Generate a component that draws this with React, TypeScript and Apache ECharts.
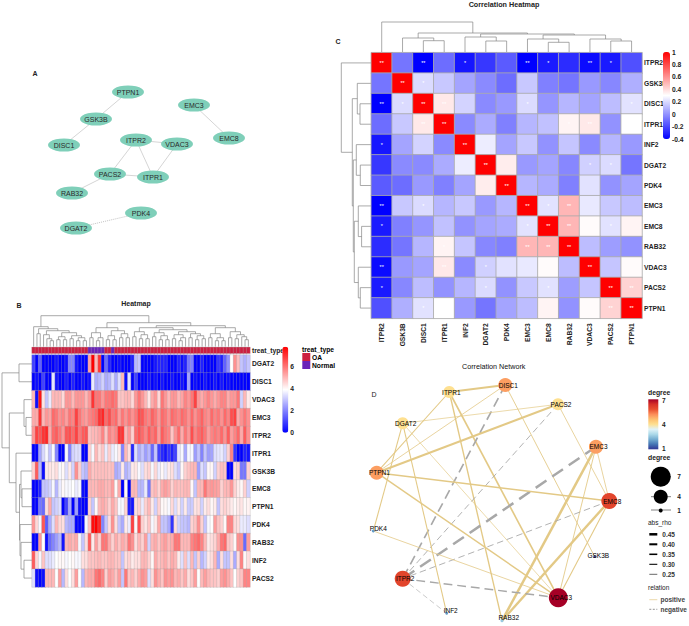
import React, { useEffect, useRef } from "react";
import * as echarts from "echarts";

const FONT = "Liberation Sans";

// ---------- Panel A ----------
const ppiNodes = ["PTPN1", "EMC3", "GSK3B", "EMC8", "DISC1", "ITPR2", "VDAC3", "PACS2", "ITPR1", "RAB32", "PDK4", "DGAT2"];
const ppiLayout: number[][] = [[128, 92], [194, 105], [96, 119], [229, 138], [64, 145], [136, 140], [177, 144], [110, 174], [153, 177], [72, 193], [141, 213], [76, 228]];
const ppiEdges: string[][] = [["PTPN1", "GSK3B"], ["GSK3B", "DISC1"], ["EMC3", "EMC8"], ["ITPR2", "VDAC3"], ["ITPR2", "PACS2"], ["ITPR2", "ITPR1"], ["VDAC3", "ITPR1"], ["PACS2", "ITPR1"], ["PACS2", "RAB32"]];
const ppiDotted: string[][] = [["PDK4", "DGAT2"]];

// ---------- Panel B ----------
const heatGenes = ["DGAT2", "DISC1", "VDAC3", "EMC3", "ITPR2", "ITPR1", "GSK3B", "EMC8", "PTPN1", "PDK4", "RAB32", "INF2", "PACS2"];
const normalSamples = [17, 18, 19, 20, 21, 24];
const rowDGAT2 = [1,0,1.5,0,0,0,0,0.3,0,0,0.2, 2,2,0.3,0,0,0,5.3,7.8,5,7,0, 1.6,0.5,0,0,0.2,0,0,0,0.5,2.8,3, 0,0,0,0,0.3,0.5,0.5,0.5,0,0,0, 0.5,0.2,0.5,1.8,2,0,0,0.5,0,0,0, 0,0.8,0.5,1.5,2.2,3.9,5.6,4.9,3,2.7,3];
const rowDISC1 = [0,0.2,0,1,0,0,3.5,0.3,0,0,0.4, 0,0.5,0,0,0.3,0,0.2,3.6,2.6,2.8,3.2, 2.6,2.8,3.4,2.6,3.4,5,0.2,3.5,0,1,0, 0,0,0.3,0,0.2,0,0.3,0,0,0.3,0, 0,0.3,0,2.5,0,0.2,0,0,0.3,0,0, 0.3,0,0.3,0,0.2,0,0,0,0,0,0];
const rowVDAC3 = [5,0.2,7.5,4.3,3,3.6,5,5,5,4.5,5.5, 5.5,5,5.5,5.5,5.5,5,5.5,7,6,6,5.5, 6,6,6.2,6,4.8,4.8,5,5,4.5,5.5,6, 5.5,5,4.3,5.2,5.5,4.5,6,5.5,5,5.5,5.5, 5,5.3,5.8,5.5,6,6.8,5.5,5.2,5.5,5.8,5.5, 5.2,5.5,5.8,5.8,5.2,5.5,5.5,6,3.2,5,4.2];
const rowEMC3 = [5.2,5.2,7,5,5.5,5.3,6.2,6,5.6,5.8,5.4, 6,5.8,6.8,6,5.6,5.4,5.8,6,6.2,7,7.2, 6.2,6.6,6,6.2,5.4,6,5.6,6,5.6,6,6.6, 6.5,6,5.8,6.3,6,5.5,6.2,6,5.6,6.2,6, 5.8,6.2,6,5.6,6.2,5.6,6,6.3,5.8,5.6,6.2, 5.8,6,5.6,6.2,5.8,6.6,6.8,5.2,5.6,6,5.6];
const rowITPR2 = [5.5,6.8,6.5,7,7.2,5.2,6.2,6.4,6,5.5,6.5, 6.6,6.2,6.8,6,6.4,6.5,4.8,5,5,5.2,5.8, 4.8,5.8,5.5,5.8,7,7,5,5.5,4.6,6.2,6.5, 6.2,5.8,6.4,6,6.3,5.4,6.4,6,5.8,4.8,5.6, 6.2,5.2,6,5.5,6.6,5.8,6.2,6.4,6,5.4,5.8, 6,5.8,6.2,5.6,6.4,5.4,5.8,6.2,5.2,6.4,5.6];
const rowITPR1 = [0,0,2.5,3.3,3.8,3,3.8,2,0,0,3.8, 2,3.2,3.4,3.4,0,0,4.6,3.8,5,4.4,4.8, 3.6,4.6,3.6,3.8,4.2,2,5,4.4,0.6,3.4,2.6, 3,2.4,2.8,1.6,3,1,0.6,0.3,0.8,0.5,1, 3.5,3.8,2.6,3.8,3.8,2.4,3,2,3,2.4,2.5, 3.4,3.5,3.6,3.2,4.6,5.8,0.8,0,0,0.5,0.3];
const rowGSK3B = [4.6,6.4,2.8,0.2,4.2,4.3,4.2,4.4,3.8,4,3.4, 4.2,3.2,5.6,4.6,3,2.8,5.2,4.8,4.9,4.9,4.9, 4.9,4.8,4.9,2.6,2.8,4.2,2.7,3,4.2,4.3,3.8, 3.4,4.4,4.6,3.8,4.5,3.6,4,3.6,4.2,4.4,3.4, 3,4,4.6,4.8,5,5,2.4,3.4,3,4,4, 3.2,4.6,4.9,4.8,0,0,4.4,4.6,1.8,1.8,4.6];
const rowEMC8 = [0,0,0.5,3,3,3.2,3.8,2.8,3.6,4,3.8, 3.8,3.9,3.6,3.8,0.2,0,5,5,5,5.2,5.2, 5,5,5.4,4,5.2,0,4,0,5,5,2.8, 2.8,3.6,1.8,4.8,5,4.6,5.2,5.4,5.2,4.6,5, 4.9,4.9,5,5,4,3,5,5,6,5.4,5.5, 5.4,5.3,4.6,5,5,5.5,4.6,4.2,4,4.6,3.2];
const rowPTPN1 = [0,0,1.8,1.6,4.4,5.2,3,3.2,3.4,0,1, 2.6,0,2.4,0.2,0,0,4.6,3,4,5,5.2, 5,4.6,5.2,4.8,3.8,3.8,4.6,0.5,0.3,4.4,4.6, 3.6,4.6,5,4.2,3.2,4.6,4,4,3.8,4.5,3.4, 4.2,3.2,4.2,3.1,3.1,4.3,4.4,3.2,4.2,4.4,4, 4.2,3,4.4,4.6,4.4,4.2,4,4.2,4.3,4,4.1];
const rowPDK4 = [5.5,4.5,3.8,6.5,1.4,2.6,3.4,5,4.5,4.4,2.8, 2.6,2.6,0,0,0,3.8,4.8,7.6,7.8,7.2,2, 3,4.4,5.6,4.4,3,2.6,4.2,3.6,6.8,4,6.6, 4.6,4.3,4.8,3.8,4.2,5.2,3,3,2.6,0.8,4.4, 3.2,3,3,2.8,4.6,4.8,5.6,4.6,3,3.8,3.9, 5.4,4.8,4.6,4,5.8,5.8,4.5,4.4,3.6,3.6,3.4];
const rowRAB32 = [0,0,5.5,3.9,0.2,1.6,2,2.4,2.8,0.3,5, 5.2,5,5.2,3.8,3,4.4,6.4,4.2,5.4,4.6,6, 6,5.2,4.6,5.2,4.8,5.2,5,6,5.6,4.4,5, 4.6,5.4,3.2,5,5.2,4.8,5.2,5.4,5,5.2,6, 6,5,5,5,5.8,6,6.2,5.8,5,4.2,4.4, 4.6,5.2,6,6.2,4.8,4.6,4,5.6,5.6,1.6,5.4];
const rowINF2 = [6.4,4.5,3.8,4.8,3.4,3.4,3.6,3.9,4,4,3.8, 3.9,4,3.8,3.8,4.4,4.4,4.8,4.8,4.9,5,4.8, 4.8,5,5,4.8,4.8,3,4.4,4.6,4.2,4.4,4.4, 5,5,4.6,4,5.2,4.8,5,5.2,4.8,5.2,5, 4.2,3.4,4.8,3.4,5,3,4.6,2.8,3.2,4.2,4.4, 5,2.6,4.4,3,3,4.4,2.6,4.4,5.8,4,4.4];
const rowPACS2 = [3.4,0.2,0,0.2,5,5,5,3.9,5.4,2.8,4.4, 3.9,4.4,5.4,3.9,2.8,5,5.2,5.2,6,6.2,5.8, 4.6,5.4,5.2,4.8,5.4,3,6,4.8,5,4.6,5.2, 5.6,5.4,3.4,4.4,5.6,5.2,4.8,5.6,5.4,5.6,5, 5.2,4.8,5.2,4.4,4.8,5.4,3.9,5,5.4,5,4.8, 4.8,4.6,5.4,5.6,5.2,4.8,3.9,4.6,4.8,5.8,5.8];
const heatRows = [rowDGAT2, rowDISC1, rowVDAC3, rowEMC3, rowITPR2, rowITPR1, rowGSK3B, rowEMC8, rowPTPN1, rowPDK4, rowRAB32, rowINF2, rowPACS2];
const heatTicks = [0, 2, 4, 6];

// Dendrograms: [merge height, left, right]; numbers are leaf positions
type Tree = number | [number, Tree, Tree];
const sampleTree: Tree = [31,
  [20, 0, [18, [13, 1, 2], [16, [12, 3, [8, 4, [6, 5, 6]]], [14, [10, [7, 7, 8], [7, 9, 10]], [11, [8, 11, 12], [9, [6, 13, 14], [6, 15, 16]]]]]]],
  [24,
    [19, [14, [9, 17, 18], [9, [6, 19, 20], 21]], [16, [11, [7, 22, 23], [7, 24, 25]], [13, [9, 26, 27], [9, 28, 29]]]],
    [21,
      [19, [15, [10, 30, 31], [12, [8, 32, 33], [8, 34, 35]]], [17, [14, [10, 36, 37], [11, [7, 38, 39], [7, 40, 41]]], [15, [12, [8, 42, 43], [9, [6, 44, 45], 46]], [13, [9, 47, 48], [11, [7, 49, 50], [8, 51, 52]]]]]],
      [19, [13, [9, 53, 54], [9, [6, 55, 56], [6, 57, 58]]], [15, [9, 59, 60], [12, [8, 61, 62], [10, 63, [7, 64, 65]]]]]]]];
const geneTree: Tree = [30, [13, 0, 1], [22.7, [8, 2, [6, 3, 4]], [16, 5, [12.5, [11, 6, [10, 7, 8]], [12, 9, [11, 10, [8, 11, 12]]]]]]];

// ---------- Panel C ----------
const corGenes = ["ITPR2", "GSK3B", "DISC1", "ITPR1", "INF2", "DGAT2", "PDK4", "EMC3", "EMC8", "RAB32", "VDAC3", "PACS2", "PTPN1"];
const corITPR2 = [1, -0.08, -0.4, -0.1, -0.34, -0.25, -0.15, -0.4, -0.33, -0.28, -0.37, -0.33, -0.18];
const corGSK3B = [-0.08, 1, 0.2, 0.15, 0.05, -0.02, -0.1, 0.15, -0.05, -0.08, 0.02, -0.03, 0.08];
const corDISC1 = [-0.4, 0.2, 1, 0.36, 0.18, -0.02, 0.02, 0.2, 0.01, 0.1, 0.05, 0.12, 0.22];
const corITPR1 = [-0.1, 0.15, 0.36, 1, -0.02, 0.07, -0.05, 0.1, 0.13, 0.33, 0.36, 0, 0.3];
const corINF2 = [-0.34, 0.05, 0.18, -0.02, 1, 0.25, 0.05, 0.15, 0, 0.14, -0.02, 0.1, 0.02];
const corDGAT2 = [-0.25, -0.02, -0.02, 0.07, 0.25, 1, 0.35, 0.02, 0.05, -0.03, 0.17, 0.2, -0.08];
const corPDK4 = [-0.15, -0.1, 0.02, -0.05, 0.05, 0.35, 1, 0.1, 0.07, -0.05, 0.22, 0, 0.05];
const corEMC3 = [-0.4, 0.15, 0.2, 0.1, 0.15, 0.02, 0.1, 1, 0.22, 0.5, 0.24, 0.15, 0.12];
const corEMC8 = [-0.33, -0.05, 0.01, 0.13, 0, 0.05, 0.07, 0.22, 1, 0.5, 0.31, 0.22, 0.33];
const corRAB32 = [-0.28, -0.08, 0.1, 0.33, 0.14, -0.03, -0.05, 0.5, 0.5, 1, 0.12, 0.03, 0];
const corVDAC3 = [-0.37, 0.02, 0.05, 0.36, -0.02, 0.17, 0.22, 0.24, 0.31, 0.12, 1, 0.14, 0.31];
const corPACS2 = [-0.33, -0.03, 0.12, 0, 0.1, 0.2, 0, 0.15, 0.22, 0.03, 0.14, 1, 0.42];
const corPTPN1 = [-0.18, 0.08, 0.22, 0.3, 0.02, -0.08, 0.05, 0.12, 0.33, 0, 0.31, 0.42, 1];
const corRows = [corITPR2, corGSK3B, corDISC1, corITPR1, corINF2, corDGAT2, corPDK4, corEMC3, corEMC8, corRAB32, corVDAC3, corPACS2, corPTPN1];
const corTree: Tree = [30, 0, [19, [14, 1, [11.3, 2, 3]], [18, [15, 4, [11, 5, 6]], [17, [13, 7, [9.7, 8, 9]], [13, 10, [11, 11, 12]]]]]];
const doubleStars: string[][] = [["ITPR2", "DISC1"], ["ITPR2", "EMC3"], ["ITPR2", "VDAC3"], ["DISC1", "ITPR1"], ["ITPR1", "VDAC3"], ["EMC3", "RAB32"], ["EMC8", "RAB32"], ["PACS2", "PTPN1"]];
const singleStars: string[][] = [["ITPR2", "INF2"], ["ITPR2", "EMC8"], ["ITPR2", "PACS2"], ["GSK3B", "DISC1"], ["DISC1", "EMC3"], ["DISC1", "PTPN1"], ["ITPR1", "RAB32"], ["DGAT2", "VDAC3"], ["DGAT2", "PACS2"], ["EMC3", "EMC8"], ["EMC8", "PACS2"]];
const corTicks = [-0.4, -0.2, 0, 0.2, 0.4, 0.6, 0.8, 1];

// ---------- Panel D ----------
const netNodes = ["DISC1", "ITPR1", "PACS2", "DGAT2", "EMC3", "PTPN1", "EMC8", "PDK4", "GSK3B", "ITPR2", "VDAC3", "INF2", "RAB32"];
const netDegree = [5, 4, 4, 4, 5, 5, 6, 2, 1, 6, 7, 2, 2.6];
const netLayout: number[][] = [[505.3, 385], [449.3, 392], [558, 404.3], [402.7, 423.3], [596, 446.7], [376.7, 472.7], [609.3, 501], [373.3, 531], [594.7, 556.7], [402.7, 578.7], [558.3, 597.7], [446.7, 613.3], [502, 620.7]];
const netLabelShift: number[][] = [[3, 0], [2, 0], [3, 0], [3, 0], [2.5, 0], [2.7, 0], [3, 0], [5, -2.3], [3.6, -1], [2.5, 0], [3, 0], [4, -2.7], [6.7, -3.7]];
const netEdges: [string, string, number][] = [
  ["ITPR1", "DISC1", 0.4], ["ITPR1", "PTPN1", 0.3], ["ITPR1", "VDAC3", 0.36], ["ITPR1", "RAB32", 0.33],
  ["DISC1", "PTPN1", 0.27], ["DISC1", "GSK3B", 0.28], ["DISC1", "ITPR2", -0.36], ["PACS2", "DGAT2", 0.26],
  ["PACS2", "PTPN1", 0.4], ["PACS2", "EMC8", 0.27], ["PACS2", "ITPR2", -0.28], ["DGAT2", "PDK4", 0.3],
  ["DGAT2", "INF2", 0.3], ["DGAT2", "VDAC3", 0.26], ["EMC3", "RAB32", 0.45], ["EMC3", "VDAC3", 0.28],
  ["EMC3", "ITPR2", -0.45], ["EMC3", "EMC8", 0.27], ["EMC8", "RAB32", 0.44], ["EMC8", "VDAC3", 0.3],
  ["EMC8", "PTPN1", 0.35], ["EMC8", "ITPR2", -0.28], ["ITPR2", "VDAC3", -0.34], ["ITPR2", "INF2", -0.25],
  ["PTPN1", "VDAC3", 0.34], ["PDK4", "VDAC3", 0.27],
];
const degreePalette = ["#313695", "#4575b4", "#74add1", "#abd9e9", "#e0f3f8", "#fee090", "#fdc070", "#fc8d59", "#e8502f", "#d73027", "#a50026"];
const rhoLegend = [0.45, 0.40, 0.35, 0.30, 0.25];

// ---------- helpers ----------
const PAGE_W = 689, PAGE_H = 626;
const BG = { left: 32, top: 355, width: 218, height: 232 };
const BA = { left: 32, top: 347.3, width: 218, height: 6 };
const CG = { left: 371.3, top: 52.7, width: 270.7, height: 265.6 };
const B_BAR = { left: 282.3, top: 346.7, width: 6, height: 86 };
const C_BAR = { left: 663, top: 52, width: 7, height: 87 };
const POS_COL = "#e3c986", NEG_COL = "#a8a8a8", OA_COL = "#cc1f40", NORMAL_COL = "#6a22b8";

function treeSegments(t: Tree, place: (pos: number, h: number) => number[], out: number[][]) {
  const rec = (n: Tree): { p: number; h: number } => {
    if (typeof n === "number") return { p: n, h: 0 };
    const a = rec(n[1]), b = rec(n[2]), h = n[0];
    const A0 = place(a.p, a.h), A1 = place(a.p, h), B1 = place(b.p, h), B0 = place(b.p, b.h);
    out.push([...A0, ...A1], [...A1, ...B1], [...B1, ...B0]);
    return { p: (a.p + b.p) / 2, h };
  };
  rec(t);
}

function paletteColor(d: number): string {
  const f = ((d - 1) / 6) * (degreePalette.length - 1);
  const i = Math.min(Math.floor(f), degreePalette.length - 2), k = f - i;
  const ch = (s: string, o: number) => parseInt(s.slice(o, o + 2), 16);
  const mix = (o: number) => Math.round(ch(degreePalette[i], o) * (1 - k) + ch(degreePalette[i + 1], o) * k);
  return `rgb(${mix(1)},${mix(3)},${mix(5)})`;
}
function nodeSize(d: number): number {
  if (d >= 7) return 19;
  if (d >= 6) return 16;
  if (d >= 5) return 14;
  if (d >= 4) return 12;
  return 2.5 + (d - 1) * 0.4;
}
const rhoWidth = (r: number) => 0.6 + (Math.abs(r) - 0.25) * 9.5;

function txt(text: string, x: number, y: number, size: number, weight = "normal", fill = "#000", align = "left") {
  return { type: "text", x, y, silent: true, style: { text, fontSize: size, fontWeight: weight, fontFamily: FONT, fill, textAlign: align, textVerticalAlign: "middle" } };
}
function seg(x1: number, y1: number, x2: number, y2: number, stroke: string, lineWidth: number, lineDash?: number[]) {
  return { type: "line", silent: true, shape: { x1, y1, x2, y2 }, style: { stroke, lineWidth, lineDash } };
}

function buildOption() {
  const segments: number[][] = [];
  const bCol = BG.width / 66, bRow = BG.height / 13, cCol = CG.width / 13, cRow = CG.height / 13;
  treeSegments(sampleTree, (p, h) => [BG.left + (p + 0.5) * bCol, 346.7 - h], segments);
  treeSegments(geneTree, (p, h) => [BG.left - h, BG.top + (p + 0.5) * bRow], segments);
  treeSegments(corTree, (p, h) => [CG.left + (p + 0.5) * cCol, 52 - h], segments);
  treeSegments(corTree, (p, h) => [CG.left - h, CG.top + (p + 0.5) * cRow], segments);

  const heatData: number[][] = [];
  heatRows.forEach((r, y) => r.forEach((v, x) => heatData.push([x, y, v])));
  const corData: number[][] = [];
  corRows.forEach((r, y) => r.forEach((v, x) => corData.push([x, y, v])));
  const stars = (x: number, y: number) => {
    if (x === y) return "**";
    const a = corGenes[x], b = corGenes[y];
    const has = (l: string[][]) => l.some(([p, q]) => (p === a && q === b) || (p === b && q === a));
    return has(doubleStars) ? "**" : has(singleStars) ? "*" : "";
  };
  const annot = rowDGAT2.map((_, x) => [x, 0, normalSamples.includes(x) ? 1 : 0]);
  const sampleNames = rowDGAT2.map((_, i) => String(i));
  const hiddenX = (gridIndex: number, data: string[]) => ({ type: "category", gridIndex, data, show: false });

  const degreeStops = degreePalette.map((_, i) => ({ offset: i / (degreePalette.length - 1), color: degreePalette[degreePalette.length - 1 - i] }));

  const graphic: any[] = [
    txt("A", 35, 73.5, 7, "bold", "#222", "center"),
    txt("B", 19, 305.5, 7, "bold", "#222", "center"),
    txt("C", 338, 41, 7, "bold", "#222", "center"),
    txt("D", 374, 394, 7, "normal", "#222", "center"),
    txt("Heatmap", 136, 303, 7, "bold", "#222", "center"),
    txt("Correlation Heatmap", 504, 4, 7.2, "bold", "#222", "center"),
    txt("Correlation Network", 493.7, 366.5, 7.2, "normal", "#111", "center"),
    txt("treat_type", 302, 349, 6.7, "bold"),
    { type: "rect", silent: true, shape: { x: 302.3, y: 353, width: 8, height: 8 }, style: { fill: OA_COL } },
    { type: "rect", silent: true, shape: { x: 302.3, y: 361, width: 8, height: 8 }, style: { fill: NORMAL_COL } },
    txt("OA", 312, 357, 6.7, "bold"),
    txt("Normal", 312, 365, 6.7, "bold"),
    // panel D legends
    txt("degree", 648, 392.7, 6.8, "bold", "#222"),
    { type: "rect", silent: true, shape: { x: 648.3, y: 399.3, width: 10, height: 50 }, style: { fill: new echarts.graphic.LinearGradient(0, 0, 0, 1, degreeStops) } },
    txt("7", 662, 400, 6.5, "bold", "#222"),
    txt("4", 662, 424, 6.5, "bold", "#222"),
    txt("1", 662, 448, 6.5, "bold", "#222"),
    txt("degree", 648, 457, 6.8, "bold", "#222"),
    seg(651.7, 476.7, 671, 476.7, "#000", 0.5),
    { type: "circle", silent: true, shape: { cx: 660.7, cy: 476.7, r: 10 }, style: { fill: "#000" } },
    seg(651, 496.7, 671, 496.7, "#000", 0.5),
    { type: "circle", silent: true, shape: { cx: 660.7, cy: 496.7, r: 7 }, style: { fill: "#000" } },
    seg(651, 510, 671, 510, "#000", 0.5),
    { type: "circle", silent: true, shape: { cx: 660.7, cy: 510.5, r: 2 }, style: { fill: "#000" } },
    txt("7", 677.3, 476.7, 6.5, "bold", "#222"),
    txt("4", 677.3, 496.7, 6.5, "bold", "#222"),
    txt("1", 677.3, 510, 6.5, "bold", "#222"),
    txt("abs_rho", 648, 522.7, 6.5, "normal", "#222"),
    ...rhoLegend.flatMap((r, i) => [
      seg(649.3, 534.3 + i * 10, 657.3, 534.3 + i * 10, "#000", rhoWidth(r)),
      txt(r.toFixed(2), 662.3, 534.3 + i * 10, 6.5, "bold", "#333"),
    ]),
    txt("relation", 648, 587.3, 6.5, "normal", "#222"),
    seg(649.3, 599.7, 657.3, 599.7, POS_COL, 0.7),
    txt("positive", 660.5, 599.7, 6.5, "bold", "#444"),
    seg(649.3, 609.3, 657.3, 609.3, "#666", 0.7, [2, 1.5]),
    txt("negative", 660.5, 609.3, 6.5, "bold", "#444"),
  ];

  const noAxis = { axisLine: { show: false }, axisTick: { show: false }, splitLine: { show: false } };

  return {
    animation: false,
    backgroundColor: "#fff",
    textStyle: { fontFamily: FONT },
    grid: [
      { left: 0, top: 0, width: PAGE_W, height: PAGE_H },
      BA, BG, B_BAR, CG, C_BAR,
    ].map((g) => ({ ...g, show: false })),
    xAxis: [
      { type: "value", gridIndex: 0, min: 0, max: PAGE_W, show: false },
      hiddenX(1, sampleNames),
      hiddenX(2, sampleNames),
      { type: "value", gridIndex: 3, min: 0, max: 1, show: false },
      {
        type: "category", gridIndex: 4, data: corGenes, position: "bottom", ...noAxis,
        axisLabel: { rotate: 90, margin: 5, interval: 0, fontSize: 6.7, fontWeight: "bold", color: "#222", fontFamily: FONT },
      },
      { type: "value", gridIndex: 5, min: 0, max: 1, show: false },
    ],
    yAxis: [
      { type: "value", gridIndex: 0, min: 0, max: PAGE_H, inverse: true, show: false },
      {
        type: "category", gridIndex: 1, data: ["treat_type"], position: "right", ...noAxis,
        axisLabel: { margin: 2, fontSize: 6.7, fontWeight: "bold", color: "#222", fontFamily: FONT },
      },
      {
        type: "category", gridIndex: 2, data: heatGenes, inverse: true, position: "right", ...noAxis,
        axisLabel: { margin: 2, interval: 0, fontSize: 6.7, fontWeight: "bold", color: "#222", fontFamily: FONT },
      },
      {
        type: "value", gridIndex: 3, min: 0, max: 7.8, interval: 2, position: "right", ...noAxis,
        axisLabel: { margin: 2, showMaxLabel: false, fontSize: 6.7, fontWeight: "bold", color: "#222", fontFamily: FONT,
          formatter: (v: number) => (heatTicks.includes(v) ? String(v) : "") },
      },
      {
        type: "category", gridIndex: 4, data: corGenes, inverse: true, position: "right", ...noAxis,
        axisLabel: { margin: 2, interval: 0, fontSize: 6.7, fontWeight: "bold", color: "#222", fontFamily: FONT },
      },
      {
        type: "value", gridIndex: 5, min: -0.4, max: 1, interval: 0.2, position: "right", ...noAxis,
        axisLabel: { margin: 2, fontSize: 6.7, fontWeight: "bold", color: "#222", fontFamily: FONT,
          formatter: (v: number) => {
            const t = corTicks.find((c) => Math.abs(c - v) < 1e-6);
            return t === undefined ? "" : String(t);
          } },
      },
    ],
    visualMap: [
      {
        type: "continuous", seriesIndex: 4, dimension: 2, min: 0, max: 7.8, inRange: { color: ["#0000ff", "#ffffff", "#ff0000"] },
        left: B_BAR.left, top: B_BAR.top, itemWidth: B_BAR.width, itemHeight: B_BAR.height, padding: 0, calculable: false, showLabel: false, text: null, z: 6,
      },
      {
        type: "continuous", seriesIndex: 5, dimension: 2, min: -0.4, max: 1, inRange: { color: ["#0000ff", "#ffffff", "#ff0000"] },
        left: C_BAR.left, top: C_BAR.top, itemWidth: C_BAR.width, itemHeight: C_BAR.height, padding: 0, calculable: false, showLabel: false, text: null, z: 6,
      },
      {
        type: "continuous", seriesIndex: 3, dimension: 2, min: 0, max: 1, show: false, inRange: { color: [OA_COL, NORMAL_COL] },
      },
    ],
    series: [
      {
        type: "custom", coordinateSystem: "cartesian2d", xAxisIndex: 0, yAxisIndex: 0, silent: true, clip: false,
        encode: { x: [0, 2], y: [1, 3] }, data: segments,
        renderItem: (_: any, api: any) => {
          const a = api.coord([api.value(0), api.value(1)]);
          const b = api.coord([api.value(2), api.value(3)]);
          return { type: "line", shape: { x1: a[0], y1: a[1], x2: b[0], y2: b[1] }, style: { stroke: "#858585", lineWidth: 0.7 } };
        },
      },
      {
        type: "graph", coordinateSystem: "cartesian2d", xAxisIndex: 0, yAxisIndex: 0, layout: "none", silent: true,
        symbol: "circle", symbolSize: [32, 13],
        itemStyle: { color: "#7fcfb9" },
        label: { show: true, position: "inside", fontSize: 7, color: "#2a2a2a", fontFamily: FONT },
        data: ppiNodes.map((name, i) => ({ name, value: ppiLayout[i] })),
        links: [
          ...ppiEdges.map(([source, target]) => ({ source, target, lineStyle: { color: "#b8b8b8", width: 0.6, opacity: 1, curveness: 0 } })),
          ...ppiDotted.map(([source, target]) => ({ source, target, lineStyle: { color: "#999", width: 0.6, opacity: 1, type: [1, 1], curveness: 0 } })),
        ],
      },
      {
        type: "graph", coordinateSystem: "cartesian2d", xAxisIndex: 0, yAxisIndex: 0, layout: "none", silent: true,
        symbol: "circle",
        data: netNodes.map((name, i) => ({
          name, value: netLayout[i], symbolSize: nodeSize(netDegree[i]),
          itemStyle: { color: paletteColor(netDegree[i]) },
          label: { show: true, position: "inside", offset: netLabelShift[i], fontSize: 6.5, color: "#000", fontFamily: FONT },
        })),
        links: netEdges.map(([source, target, rho]) => ({
          source, target,
          lineStyle: {
            color: rho > 0 ? POS_COL : NEG_COL, width: rhoWidth(rho), opacity: 1, curveness: 0,
            type: rho > 0 ? "solid" : [rhoWidth(rho) * 4 + 3, rhoWidth(rho) * 2 + 2],
          },
        })),
      },
      { type: "heatmap", xAxisIndex: 1, yAxisIndex: 1, silent: true, data: annot, itemStyle: { borderColor: "#aaa", borderWidth: 0.3 } },
      {
        type: "heatmap", xAxisIndex: 2, yAxisIndex: 2, silent: true, data: heatData,
        itemStyle: { borderColor: "#a8a8a8", borderWidth: 0.3 },
      },
      {
        type: "heatmap", xAxisIndex: 4, yAxisIndex: 4, silent: true, data: corData,
        itemStyle: { borderColor: "#aaa", borderWidth: 0.8 },
        label: {
          show: true, color: "#fff", fontSize: 5.5, fontFamily: FONT,
          formatter: (p: any) => stars(p.value[0], p.value[1]),
        },
      },
    ],
    graphic: { elements: graphic },
  };
}

export default function App() {
  const ref = useRef<HTMLDivElement>(null);
  useEffect(() => {
    const chart = echarts.init(ref.current!, undefined, { renderer: "svg" });
    chart.setOption(buildOption() as any);
    return () => chart.dispose();
  }, []);
  return <div ref={ref} style={{ position: "absolute", left: 0, top: 0, width: PAGE_W, height: PAGE_H }} />;
}
